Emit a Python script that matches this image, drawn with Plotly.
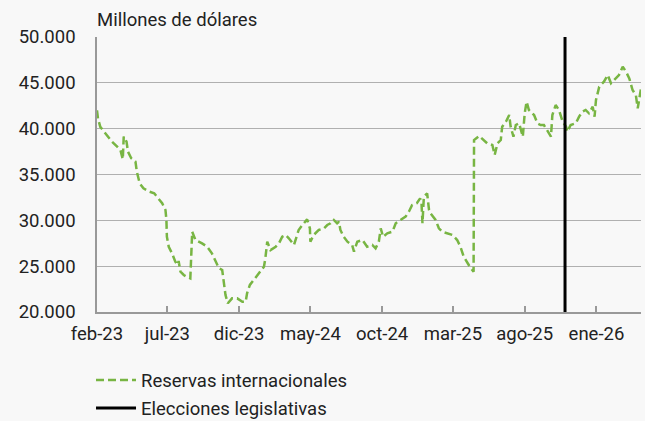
import plotly.graph_objects as go

dates = [
    "2023-02-01", "2023-02-03", "2023-02-08", "2023-02-22", "2023-03-05", "2023-03-16",
    "2023-03-23", "2023-03-28", "2023-03-30", "2023-04-05", "2023-04-08", "2023-04-15",
    "2023-04-24", "2023-04-27", "2023-05-03", "2023-05-11", "2023-05-24", "2023-06-03",
    "2023-06-12", "2023-06-20", "2023-06-27", "2023-06-29", "2023-06-30", "2023-07-04",
    "2023-07-11", "2023-07-18", "2023-07-23", "2023-07-25", "2023-07-29", "2023-08-05",
    "2023-08-11", "2023-08-19", "2023-08-23", "2023-08-30", "2023-09-13", "2023-09-24",
    "2023-10-04", "2023-10-15", "2023-10-19", "2023-10-26", "2023-10-29", "2023-11-02",
    "2023-11-07", "2023-11-16", "2023-11-27", "2023-12-08", "2023-12-15", "2023-12-18",
    "2023-12-24", "2024-01-01", "2024-01-09", "2024-01-16", "2024-01-23", "2024-01-26",
    "2024-01-30", "2024-02-06", "2024-02-17", "2024-02-24", "2024-03-02", "2024-03-09",
    "2024-03-16", "2024-03-27", "2024-04-01", "2024-04-06", "2024-04-14", "2024-04-24",
    "2024-04-30", "2024-05-01", "2024-05-08", "2024-05-19", "2024-05-30", "2024-06-06",
    "2024-06-13", "2024-06-20", "2024-06-27", "2024-07-01", "2024-07-04", "2024-07-11",
    "2024-07-19", "2024-07-29", "2024-08-02", "2024-08-09", "2024-08-20", "2024-08-30",
    "2024-09-10", "2024-09-17", "2024-09-24", "2024-09-28", "2024-10-03", "2024-10-12",
    "2024-10-23", "2024-10-30", "2024-11-09", "2024-11-20", "2024-11-27", "2024-12-04",
    "2024-12-14", "2024-12-21", "2024-12-24", "2024-12-26", "2024-12-29", "2025-01-05",
    "2025-01-09", "2025-01-12", "2025-01-23", "2025-01-30", "2025-02-06", "2025-02-17",
    "2025-02-28", "2025-03-10", "2025-03-17", "2025-03-24", "2025-04-01", "2025-04-08",
    "2025-04-14", "2025-04-15", "2025-04-26", "2025-05-06", "2025-05-13", "2025-05-24",
    "2025-05-29", "2025-06-04", "2025-06-11", "2025-06-14", "2025-06-22", "2025-06-29",
    "2025-07-02", "2025-07-08", "2025-07-13", "2025-07-20", "2025-07-28", "2025-08-01",
    "2025-08-05", "2025-08-10", "2025-08-21", "2025-08-28", "2025-09-04", "2025-09-11",
    "2025-09-19", "2025-09-26", "2025-09-29", "2025-10-06", "2025-10-13", "2025-10-21",
    "2025-10-28", "2025-10-31", "2025-11-07", "2025-11-18", "2025-11-25", "2025-12-02",
    "2025-12-09", "2025-12-16", "2025-12-24", "2025-12-28", "2025-12-31", "2026-01-07",
    "2026-01-17", "2026-01-25", "2026-02-01", "2026-02-08", "2026-02-18", "2026-02-26",
    "2026-03-05", "2026-03-12", "2026-03-19", "2026-03-26", "2026-03-30", "2026-04-06",
]

reservas = [
    42000, 41130, 40200, 39300, 38580, 38030,
    37670, 36660, 39130, 38580, 37490, 36770,
    36400, 35300, 34040, 33490, 33120, 32950,
    32400, 31860, 31130, 30040, 28210, 27120,
    26400, 25490, 25130, 25560, 24400, 24040,
    23850, 23670, 28760, 27850, 27490, 27120,
    26400, 25310, 24770, 24580, 23130, 21850,
    20950, 21490, 21490, 21120, 21120, 22040,
    22950, 23490, 24040, 24580, 24940, 25860,
    27670, 26760, 27120, 27490, 28210, 28400,
    28040, 27310, 28210, 28950, 29490, 30110,
    29130, 27670, 28400, 28950, 29130, 29490,
    29680, 30040, 29680, 29850, 28950, 28210,
    27670, 27310, 26580, 27670, 27850, 27120,
    27310, 26950, 27670, 29130, 28210, 28590,
    28760, 29680, 30040, 30400, 30940, 31670,
    31860, 32400, 31860, 29680, 32580, 32950,
    31130, 30770, 30040, 29130, 28760, 28590,
    28400, 27850, 27120, 26030, 25310, 24770,
    24400, 38760, 39200, 38760, 38400, 38220,
    37130, 38400, 38760, 40220, 40760, 41490,
    40220, 39130, 40400, 40590, 39130, 41680,
    42940, 42040, 41490, 40590, 40400, 40400,
    39670, 39130, 41490, 42580, 42040, 40760,
    40220, 39670, 40400, 40590, 41310, 41850,
    42040, 41680, 42400, 41310, 43130, 44580,
    45130, 45850, 44950, 45310, 45850, 46760,
    46220, 45490, 44220, 43670, 42220, 44400,
]

election_date = "2025-10-26"
election_y = [20000, 50000]

x_tickvals = ["2023-02-01", "2023-07-01", "2023-12-01", "2024-05-01",
              "2024-10-01", "2025-03-01", "2025-08-01", "2026-01-01"]
x_ticktext = ["feb-23", "jul-23", "dic-23", "may-24", "oct-24", "mar-25", "ago-25", "ene-26"]
y_tickvals = [20000, 25000, 30000, 35000, 40000, 45000, 50000]
y_ticktext = ["20.000", "25.000", "30.000", "35.000", "40.000", "45.000", "50.000"]

FONT = "Roboto, Noto Sans, sans-serif"
FS = 18.5
TXT = "#222222"
BG = "#f8f8f8"

fig = go.Figure()
fig.add_trace(go.Scatter(
    x=dates, y=reservas, mode="lines", name="Reservas internacionales",
    legendgroup="a",
    line=dict(color="#78b543", width=2.5, dash="8px,4px"),
))
fig.add_trace(go.Scatter(
    x=[election_date, election_date], y=election_y, mode="lines",
    name="Elecciones legislativas", legendgroup="b",
    line=dict(color="#000000", width=3),
))

fig.update_layout(
    width=645, height=421,
    margin=dict(l=97, r=4, t=37, b=109, autoexpand=False),
    paper_bgcolor=BG, plot_bgcolor=BG,
    font=dict(family=FONT, size=FS, color=TXT),
    showlegend=True,
    legend=dict(
        x=-0.011, y=-0.18, xanchor="left", yanchor="top",
        orientation="v", bgcolor="rgba(0,0,0,0)", traceorder="grouped",
        font=dict(size=FS, color=TXT), tracegroupgap=1, itemwidth=40,
    ),
    annotations=[dict(
        text="Millones de dólares", xref="paper", yref="paper",
        x=0, y=1, xanchor="left", yanchor="bottom", showarrow=False,
        font=dict(size=FS, color=TXT), yshift=4, xshift=-2,
    )],
)
fig.update_xaxes(
    type="date", range=["2023-02-01", "2026-04-06"],
    tickvals=x_tickvals, ticktext=x_ticktext,
    showgrid=False, showline=True, linecolor="#999999", linewidth=1.5,
    ticks="inside", ticklen=6, tickcolor="#999999", tickwidth=1.5,
    ticklabelstandoff=4,
    tickfont=dict(size=FS, color=TXT), zeroline=False,
)
fig.update_yaxes(
    range=[20000, 50000], tickvals=y_tickvals, ticktext=y_ticktext,
    showgrid=True, gridcolor="#b0b0b0", gridwidth=1.2,
    showline=True, linecolor="#999999", linewidth=1.5,
    ticks="", ticklabelstandoff=16,
    tickfont=dict(size=FS, color=TXT), zeroline=False,
)

fig.write_html(
    "out.html",
    config={"displayModeBar": False},
    post_script="document.body.style.margin='0';document.body.style.overflow='hidden';"
                "document.body.style.background='" + BG + "';",
)
